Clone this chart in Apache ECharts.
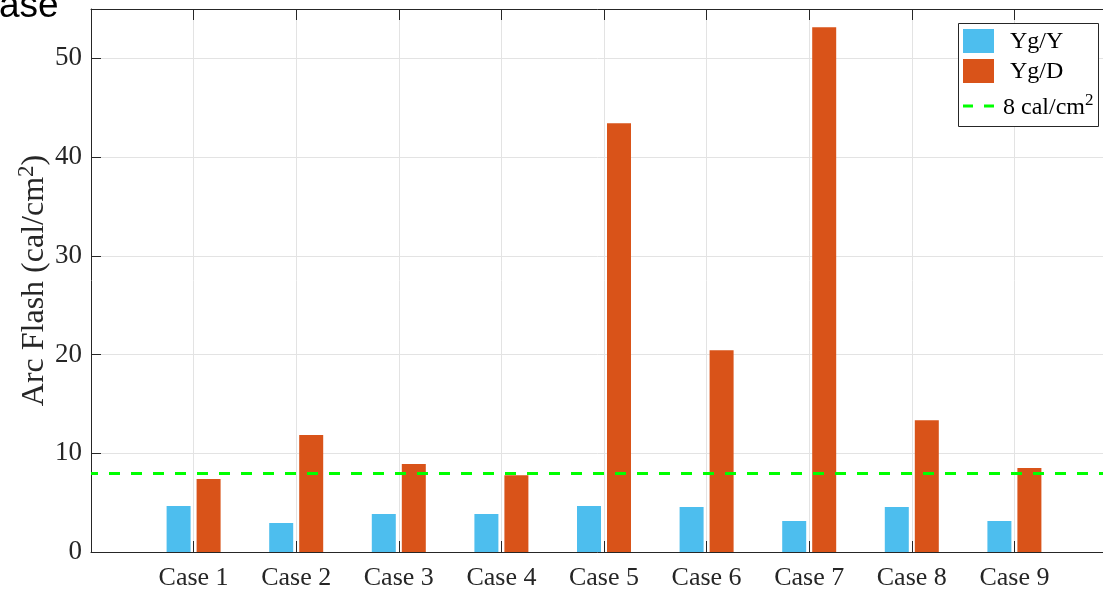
<!DOCTYPE html>
<html>
<head>
<meta charset="utf-8">
<style>
  html, body { margin: 0; padding: 0; background: #ffffff; }
  #chart { width: 1103px; height: 591px; }
</style>
<script src="https://cdn.jsdelivr.net/npm/echarts@6/dist/echarts.min.js"></script>
</head>
<body>
<div id="chart"></div>
<script>
// Arc flash incident energy per case, for the two transformer connections
const categories = ['Case 1', 'Case 2', 'Case 3', 'Case 4', 'Case 5', 'Case 6', 'Case 7', 'Case 8', 'Case 9'];
const ygY = [4.66, 2.94, 3.85, 3.85, 4.66, 4.56, 3.14, 4.56, 3.14];
const ygD = [7.39, 11.85, 8.91, 7.77, 43.43, 20.43, 53.16, 13.34, 8.5];
const threshold = 8;
const yTicks = [0, 10, 20, 30, 40, 50];

const serif = '"Liberation Serif", "Times New Roman", serif';
const ink = '#262626';
const blue = '#4DBEEE';
const orange = '#D95319';
const green = '#00FF00';

// padded slots at each end so the axis runs from 0 to 10
const slots = [''].concat(categories, ['']);
const pad = arr => [null].concat(arr, [null]);

const chart = echarts.init(document.getElementById('chart'), null, { renderer: 'canvas' });

const axisLine = { show: true, onZero: false, lineStyle: { color: ink, width: 1 } };

chart.setOption({
  animation: false,
  backgroundColor: '#ffffff',
  // the axes box runs past the right edge of the canvas
  grid: { left: 91, top: 9, width: 1026, bottom: 39, containLabel: false, outerBoundsMode: 'none' },
  xAxis: [
    {
      type: 'category',
      data: slots,
      boundaryGap: false,
      position: 'bottom',
      axisLine: axisLine,
      axisTick: { show: true, inside: true, length: 11, interval: 0, lineStyle: { color: ink } },
      axisLabel: { interval: 0, color: ink, fontFamily: serif, fontSize: 26, margin: 13 },
      splitLine: { show: true, interval: 0, lineStyle: { color: '#e3e3e3', width: 1 } }
    },
    {
      type: 'category',
      data: slots,
      boundaryGap: false,
      position: 'top',
      axisLine: axisLine,
      axisTick: { show: true, inside: true, length: 11, interval: 0, lineStyle: { color: ink } },
      axisLabel: { show: false },
      splitLine: { show: false }
    }
  ],
  yAxis: [
    {
      type: 'value',
      min: 0,
      max: 55,
      interval: 10,
      position: 'left',
      axisLine: axisLine,
      axisTick: { show: true, inside: true, length: 10, lineStyle: { color: ink } },
      axisLabel: {
        color: ink, fontFamily: serif, fontSize: 27, margin: 9,
        formatter: v => (yTicks.indexOf(v) >= 0 ? String(v) : '')
      },
      splitLine: { show: true, lineStyle: { color: '#e3e3e3', width: 1 } },
      name: '{n|Arc Flash (cal/cm}{s|2}{n|)}',
      nameLocation: 'middle',
      nameGap: 36,
      nameMoveOverlap: false,
      nameTextStyle: {
        rich: {
          n: { fontFamily: serif, fontSize: 32, color: ink },
          s: { fontFamily: serif, fontSize: 23, color: ink, verticalAlign: 'top', padding: [0, 0, 17, 0] }
        }
      }
    },
    {
      type: 'value',
      min: 0,
      max: 55,
      interval: 10,
      position: 'right',
      axisLine: axisLine,
      axisTick: { show: false },
      axisLabel: { show: false },
      splitLine: { show: false }
    }
  ],
  series: [
    {
      name: 'Yg/Y',
      type: 'bar',
      data: pad(ygY),
      barWidth: 24,
      barGap: '25%',
      itemStyle: { color: blue },
      z: 3
    },
    {
      name: 'Yg/D',
      type: 'bar',
      data: pad(ygD),
      barWidth: 24,
      barGap: '25%',
      itemStyle: { color: orange },
      z: 3,
      markLine: {
        silent: true,
        symbol: ['none', 'none'],
        label: { show: false },
        lineStyle: { color: green, width: 3, type: [11, 11], dashOffset: 4 },
        data: [{ yAxis: threshold }],
        z: 5
      }
    }
  ],
  graphic: [
    // heading text above the axes
    {
      type: 'text',
      left: -1,
      top: -12,
      style: { text: 'ase', fontFamily: '"Liberation Sans", Arial, sans-serif', fontSize: 37, fill: '#000000' }
    },
    // legend box
    {
      type: 'rect',
      shape: { x: 958.5, y: 23.5, width: 140, height: 103 },
      style: { fill: '#ffffff', stroke: '#262626', lineWidth: 1 },
      z: 10
    },
    { type: 'rect', shape: { x: 963, y: 29, width: 31, height: 24 }, style: { fill: blue }, z: 11 },
    { type: 'rect', shape: { x: 963, y: 59, width: 31, height: 24 }, style: { fill: orange }, z: 11 },
    {
      type: 'line',
      shape: { x1: 963, y1: 106, x2: 994, y2: 106 },
      style: { stroke: green, lineWidth: 3, lineDash: [10, 11] },
      z: 11
    },
    {
      type: 'text', x: 1010, y: 42, z: 11,
      style: { text: 'Yg/Y', fontFamily: serif, fontSize: 24, fill: '#000000', verticalAlign: 'middle' }
    },
    {
      type: 'text', x: 1010, y: 72, z: 11,
      style: { text: 'Yg/D', fontFamily: serif, fontSize: 24, fill: '#000000', verticalAlign: 'middle' }
    },
    {
      type: 'text', x: 1003, y: 108, z: 11,
      style: {
        text: '{n|8 cal/cm}{s|2}',
        verticalAlign: 'middle',
        rich: {
          n: { fontFamily: serif, fontSize: 24, fill: '#000000' },
          s: { fontFamily: serif, fontSize: 17, fill: '#000000', verticalAlign: 'top', padding: [0, 0, 14, 0] }
        }
      }
    }
  ]
});
</script>
</body>
</html>
